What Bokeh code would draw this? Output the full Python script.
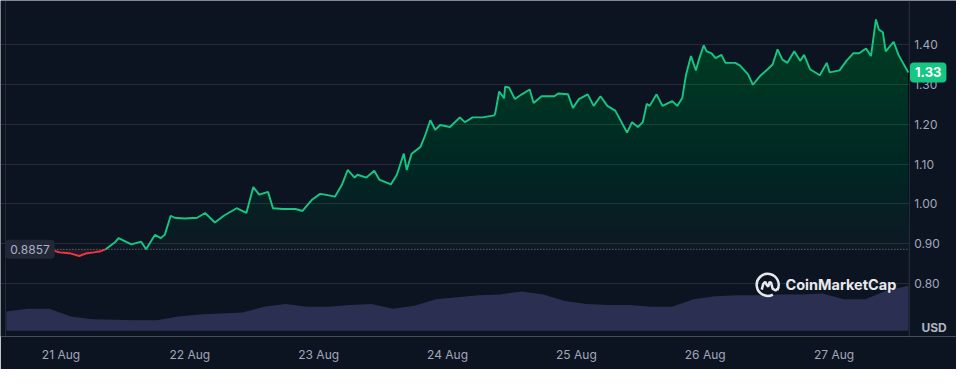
import numpy as np
import pandas as pd
from bokeh.plotting import figure
from bokeh.models import (Range1d, FixedTicker, Span, Label, DaysTicker, Grid,
                          DatetimeTickFormatter)
from bokeh.embed import file_html
from bokeh.resources import INLINE
from bokeh.core.properties import value

# ---------------- data ----------------
START = pd.Timestamp("2024-08-20 13:50")
OPEN_PRICE = 0.8857
LAST_PRICE = 1.33

price_hours = [0, 2.56, 5.31, 8.06, 8.61, 9.89, 11.73, 13.56, 15.02, 16.31,
               17.59, 18.50, 20.34, 20.89, 23.27, 25.10, 26.02, 27.66, 28.76, 29.50,
               30.60, 31.33, 33.16, 35.54, 37.01, 38.84, 40.49, 42.87, 44.70, 45.99,
               47.08, 48.73, 49.65, 51.48, 53.86, 55.15, 56.98, 58.44, 59.36, 61.19,
               62.47, 63.57, 64.86, 65.41, 67.05, 68.52, 69.44, 71.63, 72.73, 74.02,
               74.57, 75.48, 77.13, 78.05, 78.96, 79.88, 80.79, 82.63, 84.46, 85.38,
               86.84, 88.67, 90.87, 91.05, 91.79, 92.70, 92.89, 93.62, 94.72, 96.00,
               97.47, 98.20, 99.67, 102.05, 102.78, 104.61, 105.53, 106.63, 108.28, 109.38,
               110.66, 111.94, 113.41, 115.61, 116.53, 117.62, 118.54, 119.27, 119.82, 121.10,
               122.20, 124.03, 124.95, 125.87, 126.60, 127.51, 128.43, 128.98, 129.89, 130.44,
               131.36, 132.09, 133.19, 133.93, 135.76, 136.67, 138.14, 139.05, 140.52, 141.80,
               142.72, 143.64, 144.55, 145.47, 146.75, 147.85, 148.58, 149.68, 151.51, 152.80,
               153.35, 155.18, 156.46, 157.74, 158.84, 160.12, 161.04, 161.96, 162.51, 163.24,
               163.79, 165.26, 166.17, 168.0]

price_values = [0.8857, 0.888, 0.887, 0.886, 0.883, 0.878, 0.876, 0.869, 0.876, 0.878,
                0.881, 0.886, 0.905, 0.914, 0.898, 0.905, 0.886, 0.922, 0.914, 0.922,
                0.970, 0.965, 0.963, 0.965, 0.977, 0.953, 0.970, 0.989, 0.977, 1.042,
                1.023, 1.030, 0.989, 0.987, 0.987, 0.982, 1.011, 1.025, 1.023, 1.018,
                1.047, 1.085, 1.066, 1.073, 1.066, 1.083, 1.061, 1.049, 1.073, 1.126,
                1.085, 1.126, 1.143, 1.174, 1.210, 1.186, 1.198, 1.193, 1.217, 1.205,
                1.217, 1.217, 1.222, 1.227, 1.282, 1.265, 1.294, 1.292, 1.263, 1.275,
                1.287, 1.253, 1.270, 1.270, 1.277, 1.275, 1.241, 1.263, 1.275, 1.246,
                1.270, 1.246, 1.234, 1.179, 1.205, 1.193, 1.205, 1.251, 1.246, 1.275,
                1.246, 1.258, 1.246, 1.265, 1.325, 1.371, 1.335, 1.362, 1.398, 1.383,
                1.378, 1.366, 1.374, 1.354, 1.354, 1.347, 1.325, 1.299, 1.323, 1.338,
                1.350, 1.388, 1.362, 1.354, 1.383, 1.359, 1.374, 1.338, 1.323, 1.354,
                1.330, 1.335, 1.359, 1.378, 1.378, 1.390, 1.371, 1.463, 1.438, 1.431,
                1.383, 1.407, 1.374, 1.330]

volume_hours = list(range(0, 169, 4))
volume_values = [20, 23, 23, 15, 12, 11.5, 11, 11, 15, 17,
                 18, 19, 25, 28, 25, 25, 27, 28, 23, 26,
                 33, 35, 37, 38, 41, 38, 31, 28, 27, 27,
                 25, 25, 33, 36, 37, 37, 38, 38, 39, 33,
                 33, 42, 47]

price_ticks = [0.80, 0.90, 1.00, 1.10, 1.20, 1.30, 1.40]
price_tick_labels = ["0.80", "0.90", "1.00", "1.10", "1.20", "1.30", "1.40"]

# ---------------- styling ----------------
BG = "#0d1421"
GREEN = "#16c784"
RED = "#ea3943"
TXT = "#a1a7bb"
FONT = "Inter"
H_PER_PX = 24 / 131.0      # hours per reference pixel


def ms(h):
    return (START + pd.Timedelta(hours=float(h))).value / 1e6


AXIS_H = 168.18            # where the price axis sits (just after the last sample)
LABEL_H = AXIS_H + 5 * H_PER_PX

# insert threshold crossings so line colour can switch at the open price
h = np.array(price_hours, dtype=float)
v = np.array(price_values, dtype=float)
xs, ys = [h[0]], [v[0]]
for i in range(1, len(h)):
    a, b = v[i - 1] - OPEN_PRICE, v[i] - OPEN_PRICE
    if a * b < 0:
        t = a / (a - b)
        xs.append(h[i - 1] + t * (h[i] - h[i - 1]))
        ys.append(OPEN_PRICE)
    xs.append(h[i])
    ys.append(v[i])
xs = np.array([ms(x) for x in xs])
ys = np.array(ys)
green_y = np.where(ys >= OPEN_PRICE, ys, np.nan)
red_y = np.where(ys <= OPEN_PRICE, ys, np.nan)

p = figure(width=956, height=369, x_axis_type="datetime", y_axis_location=None,
           x_range=Range1d(ms(-1.10), ms(176.97)), y_range=Range1d(0.6668, 1.5106),
           output_backend="svg", toolbar_location=None,
           background_fill_color=BG, border_fill_color=BG,
           min_border_left=0, min_border_top=0, min_border_right=0, min_border_bottom=33)
p.outline_line_color = None
p.extra_y_ranges = {"vol": Range1d(-6, 345)}

# horizontal grid, stopping at the price axis
p.xgrid.grid_line_color = None
p.ygrid.grid_line_color = None
p.add_layout(Grid(dimension=1, ticker=FixedTicker(ticks=price_ticks),
                  cross_bounds=(ms(-1.1), ms(AXIS_H)),
                  grid_line_color="#ffffff", grid_line_alpha=0.1))

# volume
vx = [ms(x) for x in volume_hours]
p.varea(x=vx, y1=0, y2=volume_values, y_range_name="vol", fill_color="#2b3052", fill_alpha=1.0)

# gradient fill above open price
pos = np.maximum(ys, OPEN_PRICE)
N = 40
levels = np.linspace(OPEN_PRICE, 1.47, N + 1)[:-1]
for k, lev in enumerate(levels):
    alpha = 0.03 if k == 0 else 0.0125
    p.varea(x=xs, y1=np.minimum(lev, pos), y2=pos, fill_color="#18c47c", fill_alpha=alpha, level="image")
# red fill below open price
neg = np.minimum(ys, OPEN_PRICE)
p.varea(x=xs, y1=neg, y2=OPEN_PRICE, fill_color=RED, fill_alpha=0.12, level="image")

# open-price dotted line across the data span
p.line([ms(price_hours[0]), ms(AXIS_H)], [OPEN_PRICE, OPEN_PRICE], line_color="#9aa0ad",
       line_alpha=0.8, line_width=1, line_dash="1 2")
# left border and price-axis line
p.add_layout(Span(location=ms(-0.18), dimension="height", line_color="#ffffff",
                  line_alpha=0.1, line_width=1))
p.add_layout(Span(location=ms(AXIS_H), dimension="height", line_color="#2c3340",
                  line_width=1))

p.line(xs, green_y, line_color=GREEN, line_width=1.9)
p.line(xs, red_y, line_color=RED, line_width=1.9)

# price-axis tick labels
p.text(x=[ms(LABEL_H)] * len(price_ticks), y=price_ticks, text=price_tick_labels,
       text_align="left", text_baseline="middle", text_color=TXT,
       text_font=value(FONT), text_font_size="12px")

xa = p.xaxis[0]
xa.ticker = DaysTicker(days=list(range(1, 32)))
xa.formatter = DatetimeTickFormatter(days="%d %b", months="%d %b")
xa.major_tick_line_color = None
xa.minor_tick_line_color = None
xa.axis_line_color = None
xa.major_label_standoff = 4
xa.major_label_text_color = TXT
xa.major_label_text_font = FONT
xa.major_label_text_font_size = "12px"

# badges and labels
p.add_layout(Label(x=ms(4.4), y=OPEN_PRICE, text=f"{OPEN_PRICE:.4f}", text_align="center",
                   text_baseline="middle", text_color="#aab0c2", text_font=FONT,
                   text_font_size="12px", background_fill_color="#222736",
                   padding=5, border_radius=4))
p.add_layout(Label(x=ms(171.7), y=LAST_PRICE, text=f"{LAST_PRICE:.2f}", text_align="center",
                   text_baseline="middle", text_color="#ffffff", text_font=FONT,
                   text_font_style="bold", text_font_size="13px", background_fill_color=GREEN,
                   padding=5, border_radius=4))
p.add_layout(Label(x=ms(172.8), y=0.6885, text="USD", text_align="center",
                   text_baseline="middle", text_color="#b0b5c2", text_font=FONT,
                   text_font_style="bold", text_font_size="12px"))

# CoinMarketCap watermark
cx, cy = 141.8, 0.7966
p.arc(x=[ms(cx)], y=[cy], radius=11, radius_units="screen", start_angle=-0.5,
      end_angle=5.2, line_color="#e6e8ee", line_width=2.5)
wave_dx = [-6, -4.5, -2.5, -1, 0.5, 2, 3.5, 5, 8, 10]
wave_dy = [-5, 1, 3, 0, -2, 3, 2, -4, -6, -4]
p.line([ms(cx + d * H_PER_PX) for d in wave_dx], [cy + d / 416 for d in wave_dy],
       line_color="#e6e8ee", line_width=2.5)
p.add_layout(Label(x=ms(145.1), y=cy, text="CoinMarketCap", text_align="left",
                   text_baseline="middle", text_color="#e6e8ee", text_font=FONT,
                   text_font_style="bold", text_font_size="14.5px"))

open("out.html", "w").write(file_html(p, INLINE))
